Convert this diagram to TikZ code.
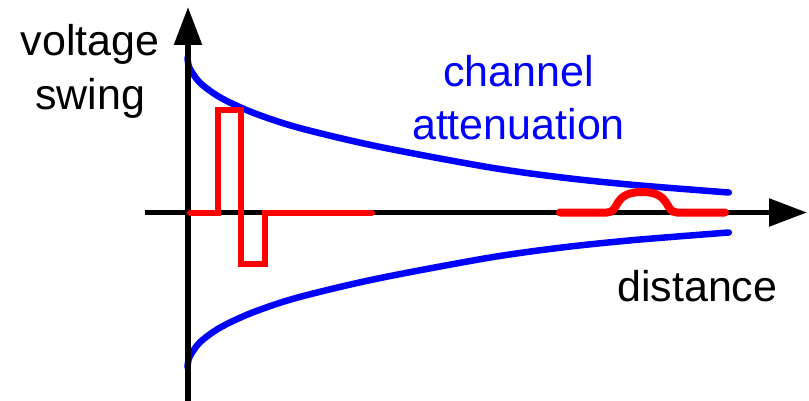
\documentclass[tikz,border=0pt]{standalone}
\usepackage{fontspec}
\setmainfont{Liberation Sans}
\usetikzlibrary{arrows.meta}
\definecolor{pblue}{RGB}{0,0,255}
\definecolor{pred}{RGB}{255,0,0}
\begin{document}
\begin{tikzpicture}[x=1pt,y=-1pt,
  axis/.style={line width=5.5pt,-{Triangle[length=38pt,width=27pt]}},
  envelope/.style={pblue,line width=6.5pt,line cap=round},
  pulse/.style={pred,line width=6pt,line cap=round,line join=miter},
  pulsewide/.style={pred,line width=8pt,line cap=round},
  lbl/.style={font=\fontsize{43}{54}\selectfont,align=center,inner sep=0pt}]
\useasboundingbox (0,0) rectangle (809,401);
% envelopes
\draw[envelope] plot[smooth,tension=0.5] coordinates {(187.5,57.5) (188.2,63.5) (190.3,69.5) (200.2,83) (220.3,97.5) (252.5,112.5) (297.8,127.5) (375.5,146) (487.3,167) (561.9,177.5) (634.5,185) (728.8,192.5)};
\draw[envelope] plot[smooth,tension=0.5] coordinates {(187.5,367.5) (188.2,361.5) (190.3,355.5) (200.2,342) (220.3,327.5) (252.5,312.5) (297.8,297.5) (375.5,279) (487.3,258) (561.9,247.5) (634.5,240) (728.8,232.5)};
% axes
\coordinate (xs) at (145,212.5);
\coordinate (xe) at (807,212.5);
\coordinate (ys) at (188,401);
\coordinate (ye) at (188,7);
\draw[axis] (xs) -- (xe);
\draw[axis] (ys) -- (ye);
% pulses
\draw[pulse] (190,212.5) -- (218,212.5) -- (218,110) -- (241,110) -- (241,264) -- (265,264) -- (265,212.5) -- (372,212.5);
\draw[pulsewide] (560,212.5) -- (607,212.5) .. controls (620,212.5) and (612,192) .. (642,192) .. controls (672,192) and (664,212.5) .. (677,212.5) -- (725,212.5);
% labels
\node[lbl,anchor=base] (vs) at (90,110) {voltage\\swing};
\node[lbl,anchor=base,text=pblue] (ca) at (518.5,140) {channel\\attenuation};
\node[lbl,anchor=base west] (di) at (617,301) {distance};
\end{tikzpicture}
\end{document}
